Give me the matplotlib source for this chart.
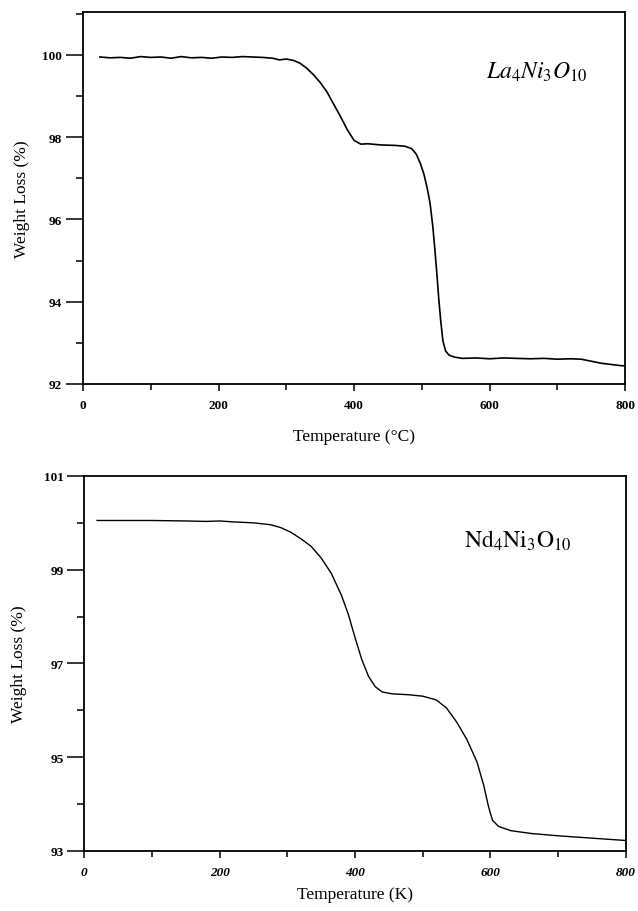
import matplotlib
matplotlib.use("Agg")
import matplotlib.pyplot as plt
from matplotlib.ticker import MultipleLocator, FixedLocator

plt.rcParams['font.family'] = ['Liberation Serif', 'DejaVu Serif']
plt.rcParams['mathtext.fontset'] = 'stix'

# La4Ni3O10, temperature in degC
la_temp = [25, 40, 55, 70, 85, 100, 115, 130, 145, 160, 175, 190, 205, 220,
           235, 250, 265, 280, 290, 300, 310, 320, 330, 340, 350, 360, 370,
           380, 390, 400, 410, 420, 440, 460, 475, 485, 492, 498, 503, 508,
           512, 516, 519, 522, 525, 528, 531, 535, 540, 548, 560, 580, 600,
           620, 640, 660, 680, 700, 720, 735, 750, 765, 780, 795, 800]
la_weight = [99.95, 99.93, 99.94, 99.92, 99.96, 99.94, 99.95, 99.92, 99.96,
             99.93, 99.94, 99.92, 99.95, 99.94, 99.96, 99.95, 99.94, 99.92,
             99.88, 99.90, 99.87, 99.80, 99.68, 99.52, 99.33, 99.10, 98.80,
             98.50, 98.18, 97.92, 97.83, 97.84, 97.81, 97.80, 97.78, 97.72,
             97.58, 97.35, 97.10, 96.75, 96.40, 95.85, 95.30, 94.70, 94.05,
             93.50, 93.05, 92.80, 92.70, 92.65, 92.62, 92.63, 92.61, 92.63,
             92.62, 92.61, 92.62, 92.60, 92.61, 92.60, 92.55, 92.50, 92.47,
             92.44, 92.44]
la_yticks = [92, 94, 96, 98, 100]

# Nd4Ni3O10, temperature in K (as labelled)
nd_temp = [19, 50, 100, 150, 180, 200, 220, 250, 275, 290, 305, 320, 335,
           350, 365, 380, 390, 400, 410, 420, 430, 440, 455, 480, 500, 520,
           535, 550, 565, 580, 590, 597, 603, 612, 630, 660, 700, 750, 800]
nd_weight = [100.05, 100.05, 100.05, 100.04, 100.03, 100.04, 100.02, 100.00,
             99.96, 99.90, 99.80, 99.66, 99.50, 99.25, 98.92, 98.45, 98.05,
             97.55, 97.08, 96.72, 96.50, 96.39, 96.35, 96.33, 96.30, 96.22,
             96.05, 95.75, 95.38, 94.90, 94.40, 93.95, 93.65, 93.52, 93.43,
             93.37, 93.32, 93.27, 93.22]
nd_yticks = [93, 95, 97, 99, 101]

fig = plt.figure(figsize=(6.38, 9.12), dpi=100)
ax1 = fig.add_axes([0.130, 0.578, 0.850, 0.408])
ax2 = fig.add_axes([0.132, 0.066, 0.849, 0.411])


def style(ax, yticks, italic_x=False):
    for s in ax.spines.values():
        s.set_linewidth(1.3)
    ax.xaxis.set_major_locator(MultipleLocator(200))
    ax.xaxis.set_minor_locator(MultipleLocator(100))
    ax.yaxis.set_major_locator(FixedLocator(yticks))
    ax.yaxis.set_minor_locator(MultipleLocator(1))
    ax.tick_params(axis='y', which='major', direction='out', length=12,
                   width=1.1, labelsize=9.5, pad=3)
    ax.tick_params(axis='y', which='minor', direction='out', length=5,
                   width=1.1)
    ax.tick_params(axis='x', which='major', direction='out', length=5,
                   width=1.1, labelsize=9.5, pad=6)
    ax.tick_params(axis='x', which='minor', direction='out', length=4,
                   width=1.1)
    for lab in ax.get_xticklabels() + ax.get_yticklabels():
        lab.set_fontweight('bold')
    if italic_x:
        for lab in ax.get_xticklabels():
            lab.set_style('italic')


ax1.plot(la_temp, la_weight, color='black', lw=1.2)
ax1.set_xlim(0, 800)
ax1.set_ylim(92, 101.05)
style(ax1, la_yticks)
ax1.set_xlabel('Temperature (°C)', fontsize=12.5, labelpad=12)
ax1.set_ylabel('Weight Loss (%)', fontsize=12.5, labelpad=9)
ax1.text(0.93, 0.84, r'$La_4Ni_3O_{10}$', transform=ax1.transAxes,
         ha='right', va='center', fontsize=17)

ax2.plot(nd_temp, nd_weight, color='black', lw=1.0)
ax2.set_xlim(0, 800)
ax2.set_ylim(93, 101)
style(ax2, nd_yticks, italic_x=True)
ax2.set_xlabel('Temperature (K)', fontsize=12.5, labelpad=6)
ax2.set_ylabel('Weight Loss (%)', fontsize=12.5, labelpad=12)
ax2.text(0.90, 0.83, r'$\mathrm{Nd_4Ni_3O_{10}}$', transform=ax2.transAxes,
         ha='right', va='center', fontsize=17)

fig.savefig('out.png', dpi=100)
